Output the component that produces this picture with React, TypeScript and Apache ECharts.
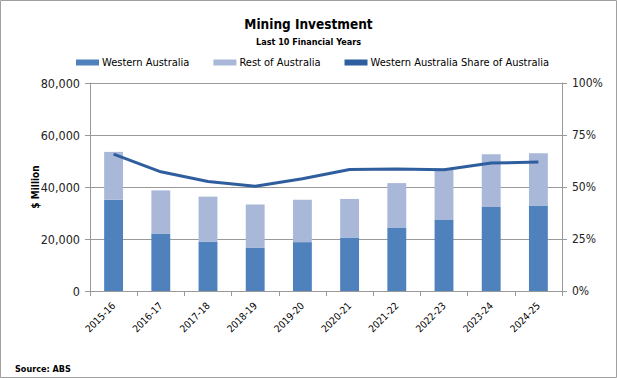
import React, { useEffect, useRef } from "react";
import * as echarts from "echarts";

const categories = ["2015-16", "2016-17", "2017-18", "2018-19", "2019-20", "2020-21", "2021-22", "2022-23", "2023-24", "2024-25"];
const waValues = [35100, 22100, 19000, 16700, 18800, 20600, 24400, 27300, 32300, 32900];
const restValues = [18400, 16600, 17300, 16600, 16300, 14800, 17100, 19800, 20300, 20100];
const sharePct = [65.8, 57.3, 52.6, 50.4, 54.0, 58.4, 58.7, 58.3, 61.5, 62.0];
const leftTicks = [0, 20000, 40000, 60000, 80000];
const rightTicks = [0, 25, 50, 75, 100];

const FONT = "'Liberation Sans Narrow', 'DejaVu Sans Condensed', 'Liberation Sans', sans-serif";

export default function App() {
  const ref = useRef<HTMLDivElement>(null);
  useEffect(() => {
    if (!ref.current) return;
    const chart = echarts.init(ref.current, undefined, { renderer: "svg" });
    chart.setOption({
      animation: false,
      backgroundColor: "#ffffff",
      textStyle: { fontFamily: FONT },
      title: [
        { text: "Mining Investment", left: "center", top: 12, textStyle: { fontSize: 13.5, fontWeight: "bold", color: "#000", fontFamily: FONT } },
        { text: "Last 10 Financial Years", left: "center", top: 32, textStyle: { fontSize: 9, fontWeight: "bold", color: "#000", fontFamily: FONT } },
        { text: "Source: ABS", left: 10, top: 359, textStyle: { fontSize: 9, fontWeight: "bold", color: "#000", fontFamily: FONT } },
      ],
      legend: {
        top: 52,
        left: 71,
        itemGap: 24,
        itemWidth: 23,
        itemHeight: 6,
        textStyle: { fontSize: 11, color: "#000", fontFamily: FONT, padding: [0, 0, 0, -2] },
        data: [
          { name: "Western Australia", icon: "rect" },
          { name: "Rest of Australia", icon: "rect" },
          { name: "Western Australia Share of Australia", icon: "rect", itemStyle: { color: "#2F5E9E" } },
        ],
      },
      grid: { left: 90, right: 55, top: 83, bottom: 87, containLabel: false },
      xAxis: {
        type: "category",
        data: categories,
        axisLine: { lineStyle: { color: "#999", width: 1 } },
        axisTick: { show: true, alignWithLabel: false, length: 5, lineStyle: { color: "#999" } },
        axisLabel: { rotate: 45, fontSize: 10, color: "#000", margin: 13, fontFamily: FONT },
      },
      yAxis: [
        {
          type: "value",
          min: 0,
          max: 80000,
          interval: 20000,
          name: "$ Million",
          nameLocation: "middle",
          nameGap: 50,
          nameMoveOverlap: false,
          nameRotate: 90,
          nameTextStyle: { fontSize: 10, fontWeight: "bold", color: "#000", fontFamily: FONT },
          axisLine: { show: true, lineStyle: { color: "#999" } },
          axisTick: { show: true, length: 5, lineStyle: { color: "#999" } },
          axisLabel: {
            fontSize: 12.5,
            color: "#222",
            margin: 10,
            fontFamily: FONT,
            formatter: (v: number) => (leftTicks.includes(v) ? v.toLocaleString("en-US") : ""),
          },
          splitLine: { show: true, lineStyle: { color: "#999", width: 1 } },
        },
        {
          type: "value",
          min: 0,
          max: 100,
          interval: 25,
          position: "right",
          axisLine: { show: true, lineStyle: { color: "#999" } },
          axisTick: { show: true, length: 5, lineStyle: { color: "#999" } },
          axisLabel: {
            fontSize: 12,
            color: "#222",
            margin: 10,
            fontFamily: FONT,
            formatter: (v: number) => (rightTicks.includes(v) ? v + "%" : ""),
          },
          splitLine: { show: false },
        },
      ],
      series: [
        {
          name: "Western Australia",
          type: "bar",
          stack: "total",
          barWidth: "40%",
          data: waValues,
          itemStyle: { color: "#4F81BD" },
        },
        {
          name: "Rest of Australia",
          type: "bar",
          stack: "total",
          barWidth: "40%",
          data: restValues,
          itemStyle: { color: "#A9B8D9" },
        },
        {
          name: "Western Australia Share of Australia",
          type: "line",
          yAxisIndex: 1,
          data: sharePct,
          symbol: "none",
          lineStyle: { color: "#2F5E9E", width: 3 },
          itemStyle: { color: "#2F5E9E" },
          z: 5,
        },
      ],
      graphic: [
        {
          type: "rect",
          shape: { x: 0.5, y: 0.5, width: 616, height: 377 },
          style: { fill: "none", stroke: "#a0a0a0", lineWidth: 1 },
          silent: true,
        },
      ],
    });
    return () => chart.dispose();
  }, []);
  return (
    <div
      ref={ref}
      style={{ position: "fixed", left: 0, top: 0, width: 617, height: 378 }}
    />
  );
}
